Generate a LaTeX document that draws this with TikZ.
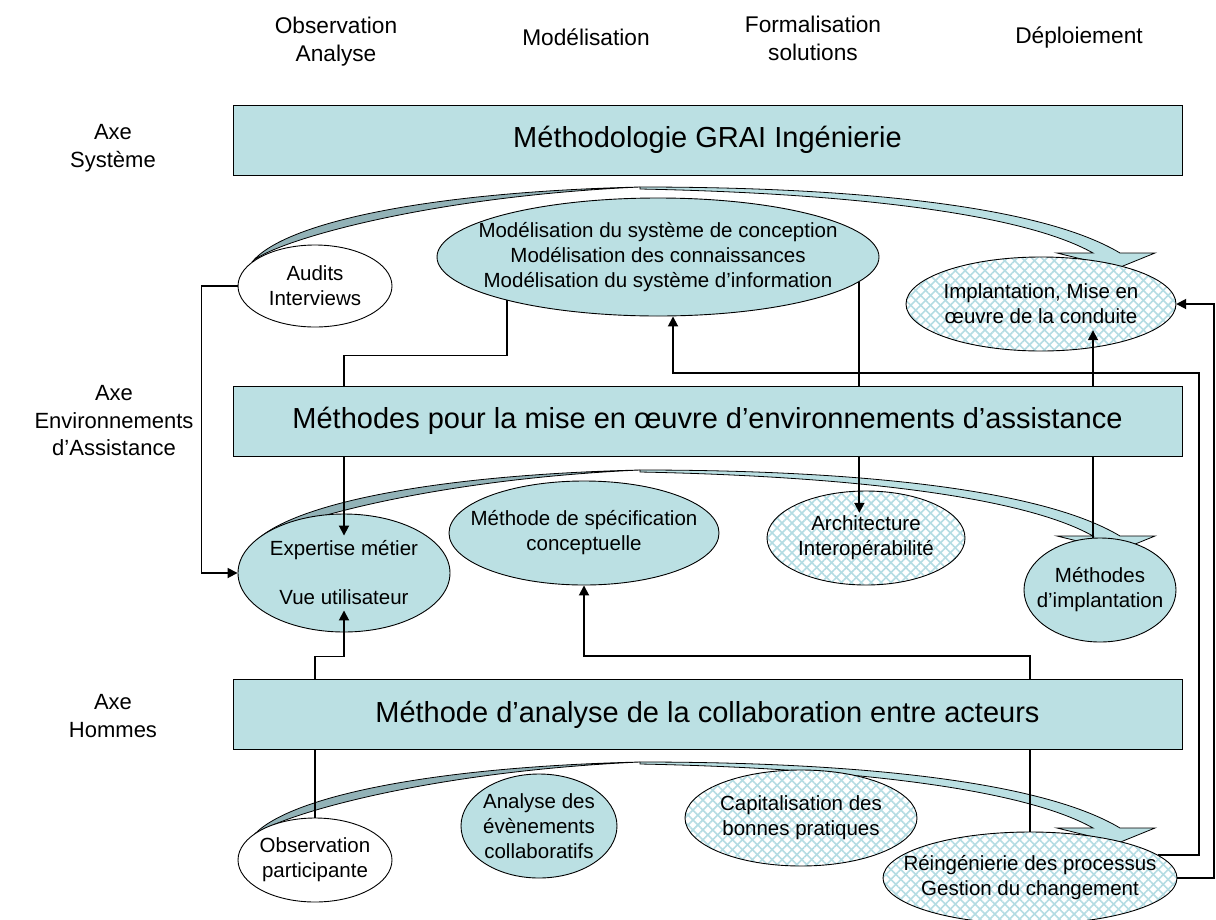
\documentclass[tikz,border=0pt]{standalone}
\usepackage{fontspec}
\setmainfont{Liberation Sans}
\usetikzlibrary{shapes.geometric,arrows.meta,patterns.meta,calc}
\definecolor{tealA}{RGB}{187,224,227}
\definecolor{tealD}{RGB}{146,178,183}
\definecolor{hatchC}{RGB}{180,220,227}
\newcommand\bandarrow[1]{%
\begin{scope}[shift={(0,#1)}]
\filldraw[band,fill=tealD] (252,262) .. controls (285,222) and (430,192) .. (640,187)
   .. controls (420,197) and (270,243) .. (252,262) -- cycle;
\filldraw[band,fill=tealA] (640,187) .. controls (850,187) and (1040,205) .. (1120,253)
   -- (1155,253) -- (1118,268) -- (1057,253) -- (1093,253)
   .. controls (1020,212) and (840,193) .. (640,189) -- cycle;
\end{scope}}
\begin{document}
\begin{tikzpicture}[x=1pt,y=-1pt,
  box/.style={draw=black,line width=0.9pt,fill=tealA,minimum width=949pt,minimum height=70pt,inner sep=0pt,font=\fontsize{29}{33}\selectfont},
  ell/.style={ellipse,inner sep=0pt},
  tealell/.style={ell,draw=black,line width=0.9pt,fill=tealA},
  whiteell/.style={ell,draw=black,line width=0.9pt,fill=white},
  hatchell/.style={ell,fill=white,
     postaction={pattern={Lines[angle=45,distance=7pt,line width=1.6pt]},pattern color=hatchC},
     postaction={pattern={Lines[angle=-45,distance=7pt,line width=1.6pt]},pattern color=hatchC},
     postaction={draw=black,line width=0.9pt}},
  ltxt/.style={font=\fontsize{20.5}{25}\selectfont,align=center},
  hdr/.style={font=\fontsize{22.7}{27.5}\selectfont,align=center},
  axl/.style={font=\fontsize{22}{27.5}\selectfont,align=center},
  arr/.style={line width=1.8pt,-{Triangle[length=10pt,width=10pt]}},
  band/.style={draw=black,line width=0.8pt}
]
\useasboundingbox (0,0) rectangle (1216,919);

% curved band arrows
\bandarrow{0}
\bandarrow{283}
\bandarrow{575}

% ellipses
\node[whiteell,minimum width=154pt,minimum height=82pt,label={[ltxt]center:{Audits\\Interviews}}] (audits) at (315,286) {};
\node[tealell,minimum width=442pt,minimum height=118pt,label={[ltxt]center:{Modélisation du système de conception\\Modélisation des connaissances\\Modélisation du système d’information}}] (modl) at (658,257) {};
\node[hatchell,minimum width=270pt,minimum height=94pt,label={[ltxt]center:{Implantation, Mise en\\œuvre de la conduite}}] (impl) at (1041,304) {};

\node[tealell,minimum width=212pt,minimum height=118pt,label={[ltxt]center:{Expertise métier\\[24pt]Vue utilisateur}}] (expert) at (344,573) {};
\node[tealell,minimum width=270pt,minimum height=104pt,label={[ltxt]center:{Méthode de spécification\\conceptuelle}}] (spec) at (584,533) {};
\node[hatchell,minimum width=198pt,minimum height=94pt,label={[ltxt]center:{Architecture\\Interopérabilité}}] (archi) at (866,538) {};
\node[tealell,minimum width=152pt,minimum height=104pt,label={[ltxt]center:{Méthodes\\d’implantation}}] (methimp) at (1100,590) {};

\node[whiteell,minimum width=154pt,minimum height=84pt,label={[ltxt]center:{Observation\\participante}}] (obs) at (315,860) {};
\node[tealell,minimum width=156pt,minimum height=104pt,label={[ltxt]center:{Analyse des\\évènements\\collaboratifs}}] (analyse) at (539,826) {};
\node[hatchell,minimum width=232pt,minimum height=96pt,label={[ltxt]center:{Capitalisation des\\bonnes pratiques}}] (capit) at (801,818) {};
\node[hatchell,minimum width=294pt,minimum height=92pt,label={[ltxt]center:{Réingénierie des processus\\Gestion du changement}}] (reing) at (1030,878) {};

% connectors
\draw[arr] (audits.west) -- ++(-36,0) |- (expert.west);
\draw[arr] (modl.196) -- ++(0,55) -| ($(expert.north)+(0,22)$);
\draw[arr] (modl.353) -- ($(modl.353 |- archi.north)+(0,22)$);
\draw[arr] (reing.10) -| (1199,373) -| ($(modl.south)+(15,0)$);
\draw[arr] (reing.east) -- ++(37,0) |- (impl.east);
\draw[arr] (reing.north) -- ++(0,-176) -| (spec.south);
\draw[arr] (obs.north) -- ++(0,-161) -| ($(expert.south)+(0,-22)$);
\draw[arr] ($(methimp.north)+(-7,0)$) -- ($(impl.south)+(52,-21)$);

% boxes
\node[box] (b1) at (707.5,140) {Méthodologie GRAI Ingénierie};
\node[box] (b2) at (707.5,421) {Méthodes pour la mise en œuvre d’environnements d’assistance};
\node[box] (b3) at (707.5,714.5) {Méthode d’analyse de la collaboration entre acteurs};

% headers
\node[hdr] (h1) at (336,41.5) {Observation\\Analyse};
\node[hdr] (h2) at (586,37.5) {Modélisation};
\node[hdr] (h3) at (813,38.5) {Formalisation\\solutions};
\node[hdr] (h4) at (1079,37.5) {Déploiement};
\node[axl] (a1) at (113,148) {Axe\\Système};
\node[axl] (a2) at (114,421) {Axe\\Environnements\\d’Assistance};
\node[axl] (a3) at (113,716) {Axe\\Hommes};
\end{tikzpicture}
\end{document}
